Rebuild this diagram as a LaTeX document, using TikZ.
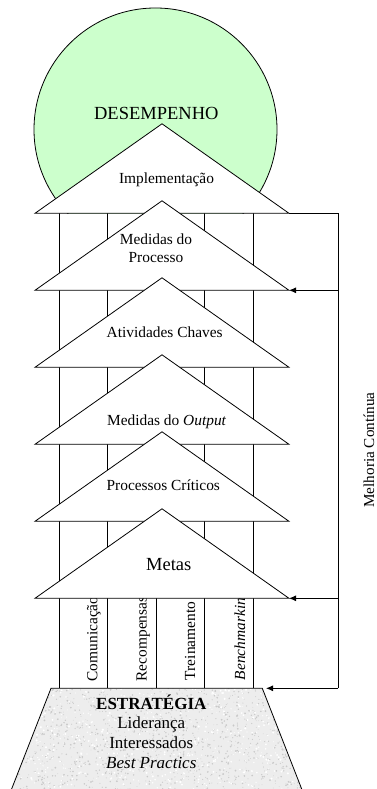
\documentclass[tikz,border=0pt]{standalone}
\usepackage{fontspec}
\setmainfont{Liberation Serif}
\usetikzlibrary{arrows.meta}
\definecolor{mint}{RGB}{204,255,204}
\begin{document}
\begin{tikzpicture}[x=1pt,y=-1pt,line width=0.8pt,
  roof/.style={draw=black,fill=white,line join=miter},
  lbl/.style={anchor=base,inner sep=0pt,font=\fontsize{15.4}{18.3}\selectfont,align=center},
  big/.style={anchor=base,inner sep=0pt,font=\fontsize{18.5}{20}\selectfont},
  base/.style={anchor=base,inner sep=0pt,font=\fontsize{17}{19.5}\selectfont},
  pillartxt/.style={anchor=base west,rotate=90,inner sep=0pt,font=\fontsize{15.4}{17}\selectfont},
  feed/.style={-{Latex[length=7pt,width=6pt]}}]
\useasboundingbox (0,0) rectangle (377,789);

% performance disc, cut at the first roof base
\begin{scope}
  \clip (0,0) rectangle (377,213.3);
  \draw[fill=mint] (155.5,129.5) circle (121.5);
\end{scope}
\node[big] (desemp) at (156.3,120) {DESEMPENHO};

% pillars
\foreach \x/\n in {59.3/p1,107.7/p2,156/p3,204.3/p4,253/p5}{
  \coordinate (\n t) at (\x,213.3);
  \coordinate (\n b) at (\x,688.3);
  \draw (\n t) -- (\n b);
}

% pillar labels, cut at the top of the pillars
\begin{scope}
  \clip (59.3,598.9) rectangle (253,688.3);
  \node[pillartxt] (com) at (97.3,681.7) {Comunicação};
  \node[pillartxt] (rec) at (146.7,681.7) {Recompensas};
  \node[pillartxt] (tre) at (195,680.5) {Treinamento};
  \node[pillartxt] (ben) at (245,680.5) {\itshape Benchmarking};
\end{scope}

% stacked roofs
\foreach \k in {1,...,6}{
  \pgfmathsetmacro\yb{213.3+77*(\k-1)}
  \pgfmathsetmacro\ya{\yb-89.5}
  \coordinate (t\k l) at (35,\yb);
  \coordinate (t\k r) at (289,\yb);
  \coordinate (t\k a) at (162,\ya);
  \draw[roof] (t\k l) -- (t\k a) -- (t\k r) -- cycle;
}
\node[lbl] (r1) at (166.5,183) {Implementação};
\node[lbl,anchor=north] (r2) at (156,233) {Medidas do\\Processo};
\node[lbl] (r3) at (164.7,337.3) {Atividades Chaves};
\node[lbl] (r4) at (166.7,425.7) {Medidas do \textit{Output}};
\node[lbl] (r5) at (163.3,490.7) {Processos Críticos};
\node[big] (r6) at (168.7,570) {Metas};

% strategy base, running off the bottom edge
\coordinate (sl) at (51,688.3);
\coordinate (sr) at (262.3,688.3);
\coordinate (sbr) at (301.7,789);
\coordinate (sbl) at (11.6,789);
\begin{scope}
  \clip (sl) -- (sr) -- (sbr) -- (sbl) -- cycle;
  \fill[gray!14] (0,680) rectangle (320,789);
  \pgfmathsetseed{11}
  \foreach \i in {1,...,1400}{
    \pgfmathsetmacro\px{rnd*300+5}
    \pgfmathsetmacro\py{rnd*104+686}
    \pgfmathsetmacro\pr{rnd*0.7+0.3}
    \fill[gray!42] (\px,\py) circle (\pr);
  }
  \foreach \i in {1,...,700}{
    \pgfmathsetmacro\px{rnd*300+5}
    \pgfmathsetmacro\py{rnd*104+686}
    \pgfmathsetmacro\pr{rnd*0.8+0.4}
    \fill[white] (\px,\py) circle (\pr);
  }
\end{scope}
\draw (sbl) -- (sl) -- (sr) -- (sbr);
\node[base] (s1) at (151.3,709.3) {\bfseries ESTRATÉGIA};
\node[base] (s2) at (151.3,728.3) {Liderança};
\node[base] (s3) at (151.3,748.3) {Interessados};
\node[base] (s4) at (151.3,768.3) {\itshape Best Practics};

% continuous improvement loop
\coordinate (c1) at (338.3,213.3);
\coordinate (c2) at (338.3,290.3);
\coordinate (c6) at (338.3,598.3);
\coordinate (c7) at (338.3,688.3);
\coordinate (st) at (266,688.3);
\draw (t1r) -- (c1) -- (c7);
\draw[feed] (c2) -- (t2r);
\draw[feed] (c6) -- (t6r);
\draw[feed] (c7) -- (st);
\node[anchor=center,rotate=90,inner sep=0pt,font=\fontsize{15.2}{17}\selectfont] (mc) at (368.8,450) {Melhoria Contínua};
\end{tikzpicture}
\end{document}
